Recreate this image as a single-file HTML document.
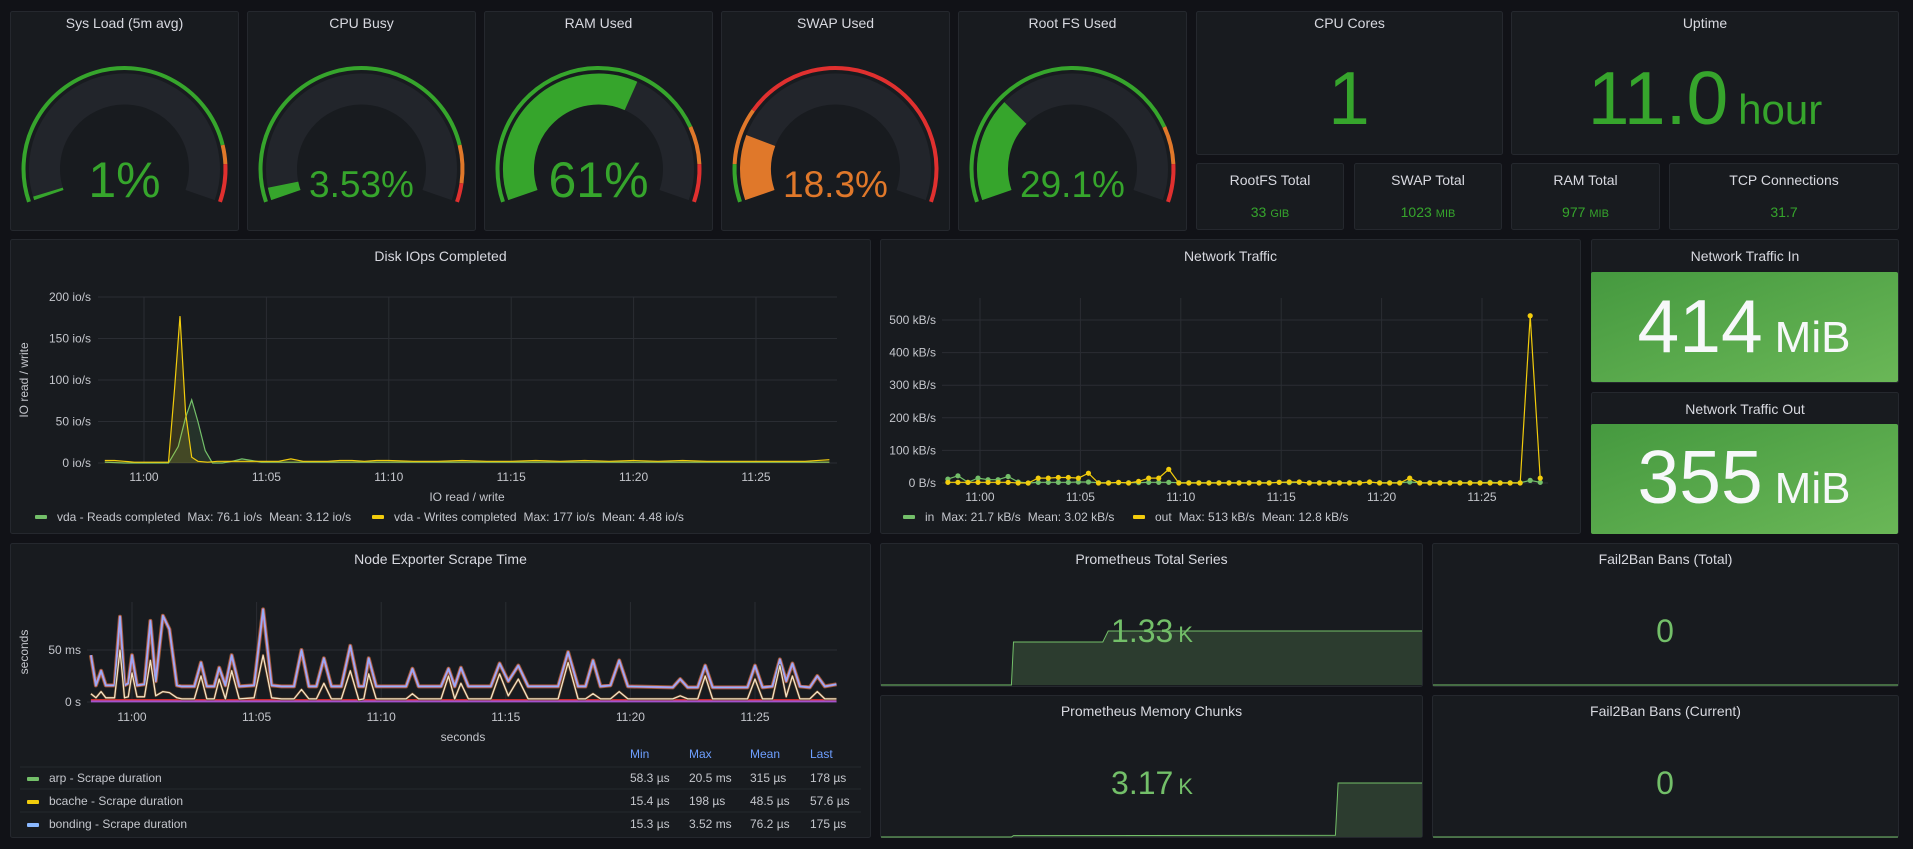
<!DOCTYPE html>
<html><head><meta charset="utf-8">
<style>
html,body{margin:0;padding:0;background:#111217;}
svg{display:block;font-family:"Liberation Sans",sans-serif;}
</style></head>
<body>
<svg id="dash" width="1913" height="849" viewBox="0 0 1913 849" xmlns="http://www.w3.org/2000/svg">
<defs>
<linearGradient id="gstat" x1="0" y1="0" x2="1" y2="1">
<stop offset="0" stop-color="#45993f"/><stop offset="1" stop-color="#6ab757"/>
</linearGradient>
</defs>
<rect width="1913" height="849" fill="#111217"/>
</svg>
<script>
// ---------- DATA ----------
const gaugeTitles = ["Sys Load (5m avg)","CPU Busy","RAM Used","SWAP Used","Root FS Used"];
const gaugeValues = [1, 3.53, 61, 18.3, 29.1];
const gaugeLabels = ["1%","3.53%","61%","18.3%","29.1%"];
const gaugeOrange = [85, 85, 80, 10, 80];
const gaugeRed = [90, 95, 90, 25, 90];

const diskTicksY = [0,50,100,150,200];
const timeTicks = [0,5,10,15,20,25];
const timeTickLabels = ["11:00","11:05","11:10","11:15","11:20","11:25"];
const diskWTimes = [-1.6,-1.2,-0.8,-0.4,0,0.4,0.8,1.0,1.25,1.47,1.7,1.95,2.2,2.6,3.0,3.5,4.0,4.5,5.0,5.5,6.0,6.5,7.0,7.5,8.0,8.5,9.0,9.5,10,11,12,13,14,15,16,17,18,19,20,21,22,23,24,25,26,27,28];
const diskWrites = [3,3,2,1,1,1,1,1,90,177,60,7,2,1,2,2,2,2,2,2,5,2,2,2,3,3,2,3,3,2,2,3,2,2,3,2,3,2,3,2,3,2,2,2,2,2,4];
const diskRTimes = [-1.6,-0.8,0,0.5,1.0,1.4,1.7,1.95,2.2,2.5,2.8,3.2,3.6,4.0,4.4,4.8,6,8,10,12,14,16,18,20,22,24,26,28];
const diskReads = [1,0,0,0,0,20,55,76,50,15,0,0,2,5,3,1,1,1,1,1,1,1,1,1,1,1,1,1];

const netTicksY = [0,100,200,300,400,500];
const netTickLabels = ["0 B/s","100 kB/s","200 kB/s","300 kB/s","400 kB/s","500 kB/s"];
const netStart = -1.6, netStep = 0.5;
const netOut = [2,2,2,2,2,2,2,0,0,15,15,17,17,15,30,0,0,2,0,5,15,15,42,0,0,0,0,0,0,0,0,0,0,2,3,3,0,0,0,0,0,0,3,0,0,0,15,0,0,0,0,0,0,0,0,0,0,0,513,15];
const netIn = [12,22,2,15,10,10,20,3,0,2,2,2,2,3,3,1,1,1,1,1,2,2,2,1,1,1,1,1,1,1,1,1,1,2,1,2,1,1,1,1,1,1,2,1,1,1,3,1,1,1,1,1,1,1,2,1,1,1,8,2];

const nodeTicksY = [0,50];
const nodeTickLabels = ["0 s","50 ms"];
const nodeTimes = [-1.65,-1.45,-1.24,-1.05,-0.7,-0.48,-0.3,-0.15,0,0.2,0.5,0.74,0.95,1.24,1.5,1.8,2.0,2.5,2.77,3.0,3.3,3.5,3.75,4.0,4.3,4.9,5.26,5.6,6.0,6.5,6.8,7.1,7.4,7.7,8.0,8.4,8.76,9.1,9.3,9.5,9.8,10.5,11.0,11.25,11.5,12.4,12.7,12.95,13.2,13.5,14.4,14.75,15.1,15.5,15.9,17.1,17.5,17.9,18.2,18.5,18.8,19.2,19.55,19.9,21.7,22,22.3,22.7,23,23.3,24.7,25,25.3,25.7,26,26.25,26.5,26.8,27.2,27.5,27.8,28.27];
const nodeTotal = [45,16,30,16,16,82,16,18,45,16,17,78,20,83,70,16,15,15,38,15,15,33,16,45,15,16,89,16,15,15,50,15,15,42,15,15,54,15,15,42,15,15,15,32,15,15,32,15,33,15,15,37,20,35,15,15,48,15,15,40,15,16,40,15,14,22,14,14,35,14,14,35,14,15,41,20,37,15,14,25,15,17];
const nodeSub = [8,4,10,4,4,50,4,5,28,5,5,40,6,10,9,4,3,3,25,3,3,22,3,30,3,4,45,4,3,3,12,3,3,18,3,3,30,2,3,27,3,3,3,8,3,3,25,3,18,3,3,27,6,22,3,3,38,3,3,8,3,3,10,3,3,6,3,3,25,3,3,22,3,3,35,5,25,3,3,10,3,3];
const nodeLowTimes = [-1.65,28.27];
const nodeLow1 = [1.8,1.8];
const nodeLow2 = [0.6,0.6];
const nodeRows = [["arp - Scrape duration","58.3 µs","20.5 ms","315 µs","178 µs"],["bcache - Scrape duration","15.4 µs","198 µs","48.5 µs","57.6 µs"],["bonding - Scrape duration","15.3 µs","3.52 ms","76.2 µs","175 µs"]];
const nodeRowColors = ["#73bf69","#f2cc0c","#8ab8ff"];

const promSeriesX = [0,0.241,0.245,0.41,0.42,1];
const promSeriesV = [0,0,1.06,1.06,1.33,1.33];
const promChunksX = [0,0.241,0.245,0.84,0.845,1];
const promChunksV = [0,0,0.08,0.1,3.17,3.17];

// ---------- HELPERS ----------
const NS="http://www.w3.org/2000/svg";
const svg=document.getElementById('dash');
function el(tag,attrs,parent){const e=document.createElementNS(NS,tag);for(const k in attrs)e.setAttribute(k,attrs[k]);(parent||svg).appendChild(e);return e;}
function txt(x,y,s,size,color,anchor,parent,weight){const t=el('text',{x:x,y:y,'font-size':size,fill:color,'text-anchor':anchor||'middle'},parent);if(weight)t.setAttribute('font-weight',weight);t.textContent=s;return t;}
function panel(x,y,w,h,title,name,ty){
  const g=el('g',{});
  
  
  const r=el('rect',{x:x+0.5,y:y+0.5,width:w-1,height:h-1,rx:2,fill:'#181b1f',stroke:'#25282e'},g);
  
  
  const t=txt(x+w/2,ty||y+22,title,14,'#d8d9e0','middle',g);
  
  
  return g;
}
function legendText(parent,x,y,parts){
  const t=el('text',{x:x,y:y,'font-size':12,fill:'#c4c6cc'},parent);
  parts.forEach((p,i)=>{const s=el('tspan',i?{dx:7}:{},t);s.textContent=p;});
  return t;
}
const gridC='#2a2d33', tickC='#c4c6cc';

// ---------- GAUGES ----------
const gaugeX=[10,247,484,721,958];
const GREEN='#36a52c',ORANGE='#e0782a',RED='#e0302f';
const SPAN=109;
function pt(cx,cy,r,a){const rad=a*Math.PI/180;return [cx+r*Math.sin(rad),cy-r*Math.cos(rad)];}
function arc(cx,cy,r,a0,a1){const p0=pt(cx,cy,r,a0),p1=pt(cx,cy,r,a1);const large=(a1-a0)>180?1:0;return `M${p0[0].toFixed(2)},${p0[1].toFixed(2)} A${r},${r} 0 ${large} 1 ${p1[0].toFixed(2)},${p1[1].toFixed(2)}`;}
function ang(v){return -SPAN+2*SPAN*v/100;}
gaugeTitles.forEach((title,i)=>{
  const x=gaugeX[i],w=229;
  const g=panel(x,11,w,220,title,'gauge-'+title.toLowerCase().replace(/[^a-z0-9]+/g,'-').replace(/-$/,''),28);
  const cx=x+w/2,cy=169;
  const tr=el('path',{d:arc(cx,cy,80,-SPAN,SPAN),stroke:'#22252b','stroke-width':31,fill:'none'},g);
  
  
  const v=gaugeValues[i];
  const col=v>=gaugeRed[i]?RED:(v>=gaugeOrange[i]?ORANGE:GREEN);
  const vb=el('path',{d:arc(cx,cy,80,-SPAN,ang(Math.max(v,0.6))),stroke:col,'stroke-width':31,fill:'none'},g);
  
  
  const segs=[[0,gaugeOrange[i],GREEN],[gaugeOrange[i],gaugeRed[i],ORANGE],[gaugeRed[i],100,RED]];
  segs.forEach(s=>{
    const p=el('path',{d:arc(cx,cy,101,ang(s[0]),ang(s[1])),stroke:s[2],'stroke-width':4,fill:'none'},g);
    
    
  });
  const big=gaugeLabels[i].length<=3;
  const t=txt(cx,197,gaugeLabels[i],big?50:37,col,'middle',g);
  
  
});

// ---------- STAT PANELS (top right) ----------
(function(){
  let g=panel(1196,11,307,144,'CPU Cores','stat-cpu-cores',28);
  let t=txt(1349,124,'1',75,GREEN,'middle',g);
  
  
  g=panel(1511,11,388,144,'Uptime','stat-uptime',28);
  t=el('text',{x:1705,y:124,'text-anchor':'middle',fill:GREEN},g);
  
  
  const s1=el('tspan',{'font-size':75},t);s1.textContent='11.0';
  const s2=el('tspan',{'font-size':42,dx:10},t);s2.textContent='hour';
  const small=[[1196,148,'RootFS Total','33','GiB'],[1354,148,'SWAP Total','1023','MiB'],[1511,149,'RAM Total','977','MiB'],[1669,230,'TCP Connections','31.7','']];
  small.forEach(s=>{
    const gg=panel(s[0],163,s[1],67,s[2],'stat-'+s[2].toLowerCase().replace(/ /g,'-'),185);
    const tt=el('text',{x:s[0]+s[1]/2,y:217,'text-anchor':'middle',fill:GREEN},gg);
    
    
    const a=el('tspan',{'font-size':14},tt);a.textContent=s[3];
    if(s[4]){const b=el('tspan',{'font-size':11,dx:4},tt);b.textContent=s[4].toUpperCase();}
  });
})();

// ---------- DISK IOPS ----------
(function(){
  const g=panel(10,239,861,295,'Disk IOps Completed','panel-disk-iops',261);
  const X=t=>144+t*24.48, Y=v=>463-v*0.83;
  diskTicksY.forEach(v=>{
    const l=el('line',{x1:98,x2:837,y1:Y(v),y2:Y(v),stroke:gridC},g);
    
    
    const t=txt(91,Y(v)+4,v+' io/s',12,tickC,'end',g);
    
    
  });
  timeTicks.forEach((m,i)=>{
    const l=el('line',{x1:X(m),x2:X(m),y1:297,y2:463,stroke:gridC},g);
    
    
    const t=txt(X(m),481,timeTickLabels[i],12,tickC,'middle',g);
    
    
  });
  const yt=txt(0,0,'IO read / write',12,tickC,'middle',g);
  yt.setAttribute('transform','translate(28,380) rotate(-90)');
  
  
  const xt=txt(467,501,'IO read / write',12,tickC,'middle',g);
  
  
  function series(ts,vs,color,name){
    let d=ts.map((t,i)=>(i?'L':'M')+X(t).toFixed(1)+','+Y(vs[i]).toFixed(1)).join(' ');
    const a=el('path',{d:d+` L${X(ts[ts.length-1])},${Y(0)} L${X(ts[0])},${Y(0)} Z`,fill:color,'fill-opacity':0.15},g);
    
    
    const p=el('path',{d:d,fill:'none',stroke:color,'stroke-width':1.2},g);
    
    
  }
  series(diskRTimes,diskReads,'#73bf69','reads-series');
  series(diskWTimes,diskWrites,'#f2cc0c','writes-series');
  const leg=[[35,'#73bf69',['vda - Reads completed','Max: 76.1 io/s','Mean: 3.12 io/s']],[372,'#f2cc0c',['vda - Writes completed','Max: 177 io/s','Mean: 4.48 io/s']]];
  leg.forEach(l=>{
    const lg=el('g',{},g);
    
    
    el('rect',{x:l[0],y:515,width:12,height:4,rx:1,fill:l[1]},lg);
    legendText(lg,l[0]+22,521,l[2]);
  });
})();

// ---------- NETWORK TRAFFIC ----------
(function(){
  const g=panel(880,239,701,295,'Network Traffic','panel-network-traffic',261);
  const X=t=>980+t*20.08, Y=v=>483-v*0.326;
  netTicksY.forEach((v,i)=>{
    const l=el('line',{x1:942,x2:1548,y1:Y(v),y2:Y(v),stroke:gridC},g);
    
    
    const t=txt(936,Y(v)+4,netTickLabels[i],12,tickC,'end',g);
    
    
  });
  timeTicks.forEach((m,i)=>{
    const l=el('line',{x1:X(m),x2:X(m),y1:298,y2:483,stroke:gridC},g);
    
    
    const t=txt(X(m),501,timeTickLabels[i],12,tickC,'middle',g);
    
    
  });
  function series(vs,color,name){
    const d=vs.map((v,i)=>(i?'L':'M')+X(netStart+i*netStep).toFixed(1)+','+Y(v).toFixed(1)).join(' ');
    const p=el('path',{d:d,fill:'none',stroke:color,'stroke-width':1.2},g);
    
    
    vs.forEach((v,i)=>{
      const c=el('circle',{cx:X(netStart+i*netStep),cy:Y(v),r:2.6,fill:color},g);
      
      
    });
  }
  series(netIn,'#73bf69','in-series');
  series(netOut,'#f2cc0c','out-series');
  const leg=[[903,'#73bf69',['in','Max: 21.7 kB/s','Mean: 3.02 kB/s']],[1133,'#f2cc0c',['out','Max: 513 kB/s','Mean: 12.8 kB/s']]];
  leg.forEach(l=>{
    const lg=el('g',{},g);
    
    
    el('rect',{x:l[0],y:515,width:12,height:4,rx:1,fill:l[1]},lg);
    legendText(lg,l[0]+22,521,l[2]);
  });
})();

// ---------- NETWORK IN / OUT STATS ----------
[[239,'Network Traffic In','414','stat-network-in',272,352],[392,'Network Traffic Out','355','stat-network-out',424,503]].forEach(s=>{
  const g=panel(1591,s[0],308,s[0]===239?144:142,s[1],s[3],s[0]+22);
  const b=el('rect',{x:1591,y:s[4],width:307,height:(s[0]===239?382:534)-s[4],rx:2,fill:'url(#gstat)'},g);
  
  
  const t=el('text',{x:1744,y:s[5],'text-anchor':'middle',fill:'#f7f8fa'},g);
  
  
  const a=el('tspan',{'font-size':75},t);a.textContent=s[2];
  const u=el('tspan',{'font-size':44,dx:12},t);u.textContent='MiB';
});

// ---------- NODE EXPORTER SCRAPE TIME ----------
(function(){
  const g=panel(10,543,861,295,'Node Exporter Scrape Time','panel-node-exporter-scrape',564);
  const X=t=>132+t*24.92, Y=v=>702-v*1.04;
  nodeTicksY.forEach((v,i)=>{
    const l=el('line',{x1:87,x2:837,y1:Y(v),y2:Y(v),stroke:gridC},g);
    
    
    const t=txt(81,Y(v)+4,nodeTickLabels[i],12,tickC,'end',g);
    
    
  });
  timeTicks.forEach((m,i)=>{
    const l=el('line',{x1:X(m),x2:X(m),y1:602,y2:702,stroke:gridC},g);
    
    
    const t=txt(X(m),721,timeTickLabels[i],12,tickC,'middle',g);
    
    
  });
  const yt=txt(0,0,'seconds',12,tickC,'middle',g);
  yt.setAttribute('transform','translate(28,652) rotate(-90)');
  
  
  const xt=txt(463,741,'seconds',12,tickC,'middle',g);
  
  
  const path=(ts,vs)=>ts.map((t,i)=>(i?'L':'M')+X(t).toFixed(1)+','+Y(vs[i]).toFixed(1)).join(' ');
  const dTot=path(nodeTimes,nodeTotal), dSub=path(nodeTimes,nodeSub);
  const layers=[[dTot,'#9a5a34',4,'scrape-total-outer'],[dTot,'#c587d5',2.2,'scrape-total-mid'],[dTot,'#8ab8ff',1,'scrape-total-inner'],
    [path(nodeLowTimes,nodeLow1),'#e0302f',2,'scrape-low-red'],[path(nodeLowTimes,nodeLow2),'#a352cc',2,'scrape-low-purple'],
    [dSub,'#5e3f26',2.6,'scrape-sub-outer'],[dSub,'#f4e3c4',1.3,'scrape-sub']];
  layers.forEach(l=>{
    const p=el('path',{d:l[0],fill:'none',stroke:l[1],'stroke-width':l[2],'stroke-linejoin':'round'},g);
    
    
  });
  const hdr=[['Min',630],['Max',689],['Mean',750],['Last',810]];
  hdr.forEach(h=>{
    const t=txt(h[1],758,h[0],12,'#6e9fff','start',g);
    
    
  });
  [767,789,812].forEach(y=>{
    const l=el('line',{x1:20,x2:861,y1:y,y2:y,stroke:'#25282e'},g);
    
    
  });
  nodeRows.forEach((r,i)=>{
    const y=782+i*23;
    const lg=el('g',{},g);
    
    
    el('rect',{x:27,y:y-5,width:12,height:4,rx:1,fill:nodeRowColors[i]},lg);
    txt(49,y,r[0],12,tickC,'start',lg);
    [630,689,750,810].forEach((x,j)=>txt(x,y,r[j+1],12,tickC,'start',lg));
  });
})();

// ---------- PROMETHEUS & FAIL2BAN ----------
function spark(g,x0,x1,yb,h,xs,vs,vmax,name){
  const X=f=>x0+f*(x1-x0), Y=v=>yb-v/vmax*h;
  const d=xs.map((f,i)=>(i?'L':'M')+X(f).toFixed(1)+','+Y(vs[i]).toFixed(1)).join(' ');
  const a=el('path',{d:d+` L${x1},${yb} L${x0},${yb} Z`,fill:'#2c3c2f'},g);
  
  
  const p=el('path',{d:d,fill:'none',stroke:'#73bf69','stroke-width':1},g);
  
  
}
(function(){
  let g=panel(880,543,543,144,'Prometheus Total Series','stat-prometheus-total-series',564);
  spark(g,881,1422,685,54,promSeriesX,promSeriesV,1.33,'series-sparkline');
  let t=el('text',{x:1152,y:642,'text-anchor':'middle',fill:'#73bf69'},g);
  
  
  let a=el('tspan',{'font-size':32},t);a.textContent='1.33';
  let u=el('tspan',{'font-size':22,dx:5},t);u.textContent='K';
  g=panel(880,695,543,143,'Prometheus Memory Chunks','stat-prometheus-memory-chunks',716);
  spark(g,881,1422,837,54,promChunksX,promChunksV,3.17,'chunks-sparkline');
  t=el('text',{x:1152,y:794,'text-anchor':'middle',fill:'#73bf69'},g);
  
  
  a=el('tspan',{'font-size':32},t);a.textContent='3.17';
  u=el('tspan',{'font-size':22,dx:5},t);u.textContent='K';
  [[543,'Fail2Ban Bans (Total)',564,642,685],[695,'Fail2Ban Bans (Current)',716,794,837]].forEach(f=>{
    const gg=panel(1432,f[0],467,f[0]===543?144:143,f[1],'stat-'+f[1].toLowerCase().replace(/[^a-z0-9]+/g,'-').replace(/-$/,''),f[2]);
    const l=el('line',{x1:1433,x2:1898,y1:f[4],y2:f[4],stroke:'#73bf69','stroke-width':1},gg);
    
    
    const tt=txt(1665,f[3],'0',32,'#73bf69','middle',gg);
    
    
  });
})();
</script>
</body></html>
